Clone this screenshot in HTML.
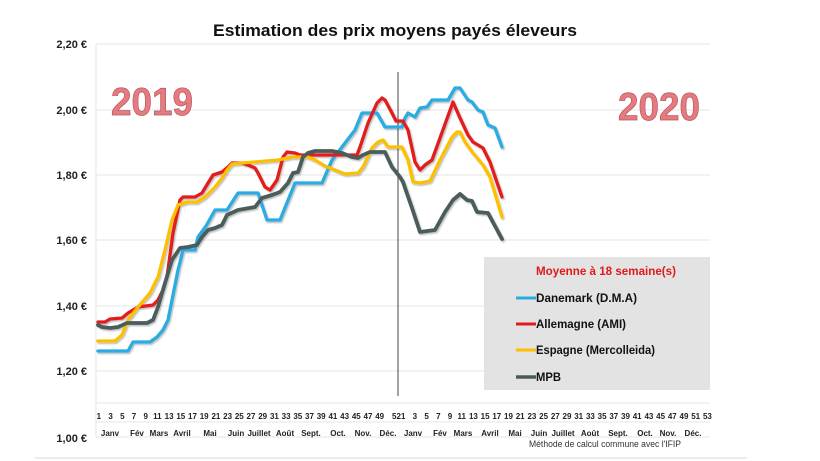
<!DOCTYPE html>
<html><head><meta charset="utf-8"><style>
html,body{margin:0;padding:0;background:#fff;}
svg{display:block;}
text{font-family:"Liberation Sans",Arial,sans-serif;}
</style></head><body>
<svg width="820" height="461" viewBox="0 0 820 461" xmlns="http://www.w3.org/2000/svg">
<defs>
<filter id="sh" x="-5%" y="-5%" width="110%" height="110%">
<feDropShadow dx="1.2" dy="1.5" stdDeviation="0.8" flood-color="#000" flood-opacity="0.25"/>
</filter>
</defs>
<rect width="820" height="461" fill="#fff"/>
<!-- bottom band line -->
<rect x="35" y="457" width="712" height="2" fill="#ececec"/>

<!-- title -->
<text x="213" y="36" font-size="17" font-weight="bold" fill="#111" textLength="364" lengthAdjust="spacingAndGlyphs">Estimation des prix moyens payés éleveurs</text>

<!-- gridlines -->
<g stroke="#e6e6e6" stroke-width="1">
<line x1="96" y1="44" x2="710" y2="44"/>
<line x1="96" y1="110" x2="710" y2="110"/>
<line x1="96" y1="175" x2="710" y2="175"/>
<line x1="96" y1="240" x2="710" y2="240"/>
<line x1="96" y1="306" x2="710" y2="306"/>
<line x1="96" y1="371" x2="710" y2="371"/>
<line x1="96" y1="437" x2="710" y2="437"/>
<line x1="96" y1="403" x2="710" y2="403"/>
<line x1="96" y1="422" x2="710" y2="422"/>
<line x1="96" y1="44" x2="96" y2="437"/>
</g>
<g id="vt" stroke="#ececec" stroke-width="0.8"></g>

<!-- y labels -->
<g font-size="11" font-weight="bold" fill="#222" text-anchor="end">
<text x="87" y="48">2,20 €</text>
<text x="87" y="114">2,00 €</text>
<text x="87" y="179">1,80 €</text>
<text x="87" y="244">1,60 €</text>
<text x="87" y="310">1,40 €</text>
<text x="87" y="375">1,20 €</text>
<text x="87" y="442">1,00 €</text>
</g>

<!-- 2019 / 2020 -->
<text x="111" y="115" font-size="39" font-weight="bold" fill="#e37b80" stroke="#b9545a" stroke-width="0.7" textLength="82" lengthAdjust="spacingAndGlyphs">2019</text>
<text x="618" y="120" font-size="39" font-weight="bold" fill="#e37b80" stroke="#b9545a" stroke-width="0.7" textLength="82" lengthAdjust="spacingAndGlyphs">2020</text>

<!-- vertical separator -->
<line x1="398" y1="72" x2="398" y2="396" stroke="#444" stroke-width="1"/>

<!-- legend -->
<rect x="484" y="257" width="226" height="133" fill="#e3e3e3"/>
<text x="536" y="275" font-size="12" font-weight="bold" fill="#e01a1a" textLength="140" lengthAdjust="spacingAndGlyphs">Moyenne à  18 semaine(s)</text>
<g stroke-width="3">
<line x1="516" y1="298" x2="536" y2="298" stroke="#29abe2"/>
<line x1="516" y1="324" x2="536" y2="324" stroke="#e31a1c"/>
<line x1="516" y1="350" x2="536" y2="350" stroke="#fcc000"/>
<line x1="516" y1="377" x2="536" y2="377" stroke="#4b5b5c" stroke-width="3.5"/>
</g>
<g font-size="12" font-weight="bold" fill="#111">
<text x="536" y="302" textLength="101" lengthAdjust="spacingAndGlyphs">Danemark (D.M.A)</text>
<text x="536" y="328" textLength="90" lengthAdjust="spacingAndGlyphs">Allemagne (AMI)</text>
<text x="536" y="354" textLength="119" lengthAdjust="spacingAndGlyphs">Espagne (Mercolleida)</text>
<text x="536" y="381" textLength="25" lengthAdjust="spacingAndGlyphs">MPB</text>
</g>

<!-- series -->
<g fill="none" stroke-width="3.3" stroke-linejoin="round" stroke-linecap="round" filter="url(#sh)">
<polyline stroke="#29abe2" points="98,351 128,351 133,342 150,342 157,337 163,330 168,320 172,300 178,270 183,250 195,250 198,237 206,226 215,210 227,210 238,193 258,193 267,220 280,220 295,183 322,183 332,160 345,143 355,130 362,113 377,113 385,127 402,127 405,118 408,113 415,117 420,108 427,107 432,100 448,100 455,88 460,88 468,100 472,102 478,110 483,112 488,125 495,128 502,147"/>
<polyline stroke="#e31a1c" points="98,322 105,322 110,319 122,318 128,313 138,307 153,305 158,300 163,290 167,277 173,233 180,200 183,197 195,197 202,193 208,183 213,175 222,172 228,167 232,163 242,163 248,165 255,168 258,173 265,187 270,190 277,180 283,157 287,152 295,153 300,155 357,155 360,147 368,123 377,103 382,98 385,100 392,113 396,121 403,121 408,130 415,162 420,170 425,165 432,160 440,138 453,102 460,118 468,135 473,142 483,148 490,162 502,197"/>
<polyline stroke="#fcc000" points="98,341 115,341 122,335 128,320 138,307 150,293 158,277 165,250 172,220 178,205 187,202 197,202 205,197 215,187 222,178 227,170 232,164 242,163 278,160 292,157 308,157 315,160 325,166 335,170 345,174 358,173 363,167 372,148 378,142 383,140 388,147 402,147 408,160 413,182 420,183 430,181 440,160 452,137 457,132 460,132 465,142 473,153 483,165 490,177 502,217"/>
<polyline stroke="#4b5b5c" stroke-width="3.8" points="98,325 102,327 110,328 118,327 127,323 147,323 153,320 158,307 165,283 172,260 180,248 188,247 197,245 202,237 208,230 215,228 222,225 227,215 238,210 255,207 262,198 272,195 280,192 288,183 293,173 298,172 303,157 308,153 315,151 332,151 342,153 352,157 358,158 363,155 370,152 385,152 392,167 400,177 403,182 412,208 420,232 435,230 445,212 453,200 460,194 467,200 472,201 477,212 488,213 502,239"/>
</g>

<!-- week labels -->
<g id="wk" font-size="8" font-weight="bold" fill="#222" text-anchor="middle"></g>

<!-- month labels -->
<g font-size="8" font-weight="bold" fill="#222" text-anchor="middle">
<text x="110" y="436">Janv</text>
<text x="137" y="436">Fév</text>
<text x="159" y="436">Mars</text>
<text x="182" y="436">Avril</text>
<text x="210" y="436">Mai</text>
<text x="236" y="436">Juin</text>
<text x="259" y="436">Juillet</text>
<text x="285" y="436">Août</text>
<text x="311" y="436">Sept.</text>
<text x="338" y="436">Oct.</text>
<text x="363" y="436">Nov.</text>
<text x="388" y="436">Déc.</text>
<text x="413" y="436">Janv</text>
<text x="440" y="436">Fév</text>
<text x="463" y="436">Mars</text>
<text x="490" y="436">Avril</text>
<text x="515" y="436">Mai</text>
<text x="539" y="436">Juin</text>
<text x="563" y="436">Juillet</text>
<text x="590" y="436">Août</text>
<text x="618" y="436">Sept.</text>
<text x="645" y="436">Oct.</text>
<text x="668" y="436">Nov.</text>
<text x="693" y="436">Déc.</text>
</g>

<text x="529" y="447" font-size="9" fill="#333" textLength="152" lengthAdjust="spacingAndGlyphs">Méthode de calcul commune avec l'IFIP</text>

<!-- static week labels -->
<g font-size="8" font-weight="bold" fill="#222" text-anchor="middle">
<text x="98.9" y="419">1</text><text x="110.6" y="419">3</text><text x="122.3" y="419">5</text><text x="134.0" y="419">7</text><text x="145.7" y="419">9</text><text x="157.4" y="419">11</text><text x="169.1" y="419">13</text><text x="180.8" y="419">15</text><text x="192.5" y="419">17</text><text x="204.2" y="419">19</text><text x="215.9" y="419">21</text><text x="227.6" y="419">23</text><text x="239.3" y="419">25</text><text x="251.0" y="419">27</text><text x="262.7" y="419">29</text><text x="274.4" y="419">31</text><text x="286.1" y="419">33</text><text x="297.8" y="419">35</text><text x="309.5" y="419">37</text><text x="321.2" y="419">39</text><text x="332.9" y="419">41</text><text x="344.6" y="419">43</text><text x="356.3" y="419">45</text><text x="368.0" y="419">47</text><text x="379.7" y="419">49</text><text x="396.5" y="419">52</text>
<text x="403.2" y="419">1</text><text x="414.9" y="419">3</text><text x="426.6" y="419">5</text><text x="438.3" y="419">7</text><text x="450.0" y="419">9</text><text x="461.7" y="419">11</text><text x="473.4" y="419">13</text><text x="485.1" y="419">15</text><text x="496.8" y="419">17</text><text x="508.5" y="419">19</text><text x="520.2" y="419">21</text><text x="531.9" y="419">23</text><text x="543.6" y="419">25</text><text x="555.3" y="419">27</text><text x="567.0" y="419">29</text><text x="578.7" y="419">31</text><text x="590.4" y="419">33</text><text x="602.1" y="419">35</text><text x="613.8" y="419">37</text><text x="625.5" y="419">39</text><text x="637.2" y="419">41</text><text x="648.9" y="419">43</text><text x="660.6" y="419">45</text><text x="672.3" y="419">47</text><text x="684.0" y="419">49</text><text x="695.7" y="419">51</text><text x="707.4" y="419">53</text>
</g>
</svg>
</body></html>
